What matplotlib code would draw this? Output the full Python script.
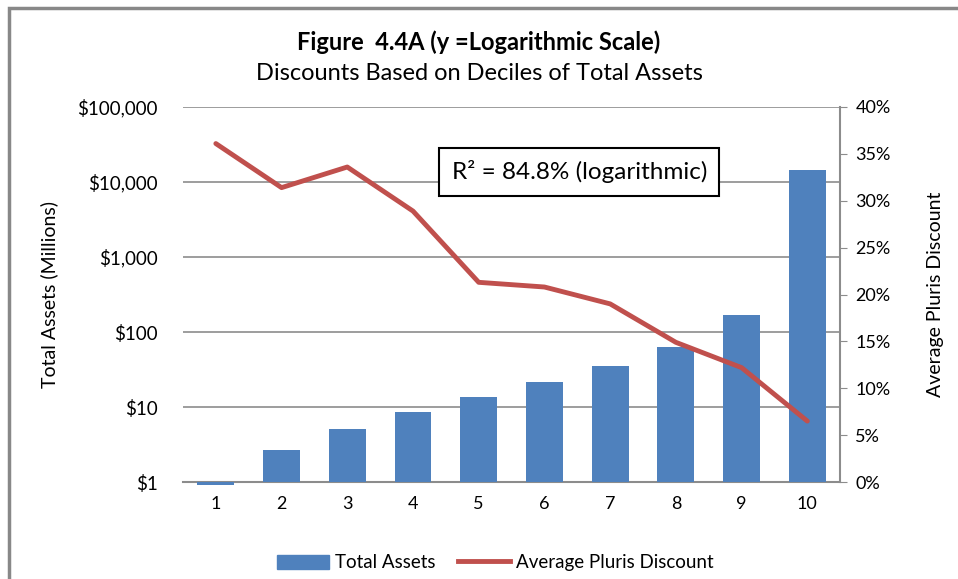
import matplotlib.pyplot as plt
from matplotlib.patches import Rectangle, Patch
from matplotlib.lines import Line2D
from matplotlib.ticker import FixedLocator, FuncFormatter, NullLocator

plt.rcParams['font.family'] = ['Lato', 'DejaVu Sans']

deciles = [1, 2, 3, 4, 5, 6, 7, 8, 9, 10]
total_assets = [0.92, 2.7, 5.1, 8.7, 13.8, 21.8, 34.9, 63, 171, 14600]
discount = [36.1, 31.4, 33.6, 28.9, 21.3, 20.8, 19.0, 14.9, 12.2, 6.5]

blue = '#4F81BD'
red = '#C0504D'
grid = '#8C8C8C'

fig = plt.figure(figsize=(9.58, 5.79), dpi=100)
ax = fig.add_axes([0.191, 0.1675, 0.686, 0.6477])

# bars grow from $1 like Excel's log axis
heights = [v - 1 for v in total_assets]
ax.bar(deciles, heights, bottom=1, width=0.56, color=blue, clip_on=False, zorder=3)
ax.set_yscale('log')
ax.set_ylim(1, 100000)
ax.set_xlim(0.5, 10.5)
ax.yaxis.set_major_locator(FixedLocator([1, 10, 100, 1000, 10000, 100000]))
ax.yaxis.set_minor_locator(NullLocator())
ax.yaxis.set_major_formatter(FuncFormatter(lambda v, p: '${:,.0f}'.format(v)))
ax.set_xticks(deciles)
ax.grid(axis='y', color=grid, linewidth=1.2, zorder=0)
ax.tick_params(axis='y', length=0, labelsize=13.5, pad=18)
ax.tick_params(axis='x', length=0, labelsize=13, pad=10)
for s in ['left', 'top', 'right']:
    ax.spines[s].set_visible(False)
ax.spines['bottom'].set_color(grid)
ax.spines['bottom'].set_linewidth(1.5)
ax.set_ylabel('Total Assets (Millions)', fontsize=14, labelpad=14)

ax2 = ax.twinx()
ax2.plot(deciles, discount, color=red, linewidth=3.5, solid_capstyle='round', zorder=4)
ax2.set_ylim(0, 40)
ax2.set_yticks(range(0, 41, 5))
ax2.yaxis.set_major_formatter(FuncFormatter(lambda v, p: '{:.0f}%'.format(v)))
ax2.tick_params(axis='y', length=5, color=grid, labelsize=13, pad=6)
for s in ['left', 'top', 'bottom']:
    ax2.spines[s].set_visible(False)
ax2.spines['right'].set_color(grid)
ax2.spines['right'].set_linewidth(1.5)
ax2.set_ylabel('Average Pluris Discount', fontsize=14, labelpad=26)

ax2.text(0.603, 0.827, 'R² = 84.8% (logarithmic)', transform=ax.transAxes,
         ha='center', va='center', fontsize=17.5,
         bbox=dict(boxstyle='square,pad=0.5', facecolor='white', edgecolor='black', linewidth=1.5))

fig.text(0.5, 0.927, 'Figure  4.4A (y =Logarithmic Scale)', ha='center', va='center',
         fontsize=17, fontweight='bold')
fig.text(0.5, 0.873, 'Discounts Based on Deciles of Total Assets', ha='center', va='center',
         fontsize=17)

handles = [Patch(color=blue), Line2D([0], [0], color=red, linewidth=3.5)]
fig.legend(handles, ['Total Assets', 'Average Pluris Discount'], loc='center',
           bbox_to_anchor=(0.517, 0.028), ncol=2, frameon=False, fontsize=13.5,
           handlelength=2.8, handleheight=0.8, columnspacing=1.2, handletextpad=0.3)

# chart frame: only left and top edges fall inside the picture
fig.patches.append(Rectangle((9 / 958, -0.05), 1.1, 1.05 - 8 / 579, transform=fig.transFigure,
                             fill=False, edgecolor='#888888', linewidth=2.5))

plt.savefig('out.png', dpi=100)
